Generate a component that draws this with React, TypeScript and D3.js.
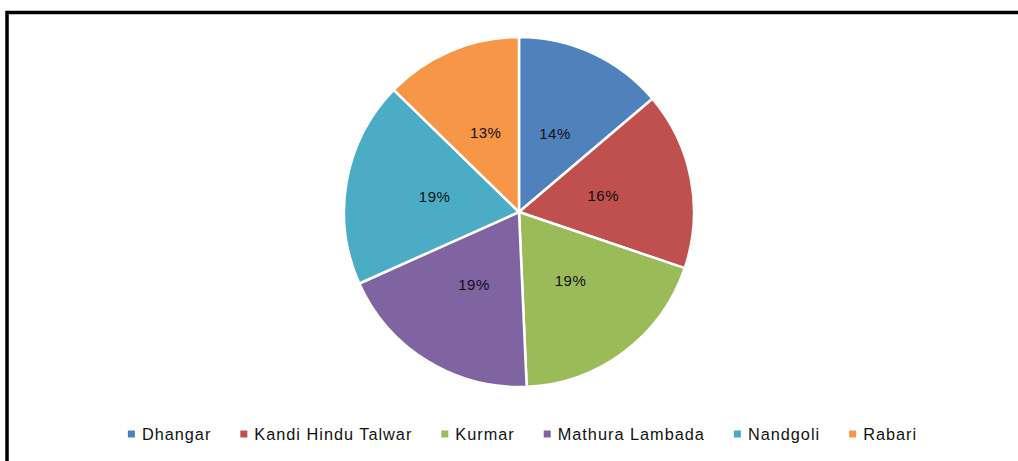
import React, { useEffect, useRef } from "react";
import * as d3 from "d3";

const categories = ["Dhangar", "Kandi Hindu Talwar", "Kurmar", "Mathura Lambada", "Nandgoli", "Rabari"];
const values = [13.8, 16.4, 19.1, 19.0, 19.0, 12.7];
const colors = ["#4F81BD", "#C0504D", "#9BBB59", "#8064A2", "#4BACC6", "#F79646"];

const W = 1018;
const H = 461;
const FONT = "'Liberation Sans', Arial, sans-serif";

export default function App() {
  const ref = useRef<SVGSVGElement | null>(null);

  useEffect(() => {
    const svg = d3.select(ref.current);
    svg.selectAll("*").remove();

    svg.append("rect").attr("x", 0).attr("y", 0).attr("width", W).attr("height", H).attr("fill", "#fff");
    // chart frame
    svg.append("rect")
      .attr("x", 7).attr("y", 12.5)
      .attr("width", W + 20).attr("height", H + 20)
      .attr("fill", "none").attr("stroke", "#000").attr("stroke-width", 3.5);

    const cx = 519, cy = 212, R = 175;
    const total = d3.sum(values);
    const pie = d3.pie<number>().sort(null).value((d) => d);
    const arcs = pie(values);
    const arc = d3.arc<d3.PieArcDatum<number>>().innerRadius(0).outerRadius(R);
    const labelArc = d3.arc<d3.PieArcDatum<number>>().innerRadius(R * 0.49).outerRadius(R * 0.49);

    const g = svg.append("g").attr("transform", `translate(${cx},${cy})`);
    g.selectAll("path.slice").data(arcs).enter().append("path")
      .attr("class", "slice")
      .attr("d", arc as any)
      .attr("fill", (_d, i) => colors[i])
      .attr("stroke", "#fff").attr("stroke-width", 2.5).attr("stroke-linejoin", "round");

    g.selectAll("text.lbl").data(arcs).enter().append("text")
      .attr("class", "lbl")
      .attr("transform", (d) => `translate(${labelArc.centroid(d)})`)
      .attr("text-anchor", "middle").attr("dy", "0.35em")
      .attr("font-family", FONT).attr("font-size", 15).attr("letter-spacing", 0.5).attr("fill", "#111")
      .text((d) => `${Math.round((d.value / total) * 100)}%`);

    // legend
    const lg = svg.append("g");
    const items = lg.selectAll("g.item").data(categories).enter().append("g").attr("class", "item");
    items.append("rect").attr("width", 7).attr("height", 7).attr("y", -3.5).attr("fill", (_d, i) => colors[i]);
    const texts = items.append("text")
      .attr("x", 14).attr("dy", "0.35em")
      .attr("font-family", FONT).attr("font-size", 16.3).attr("letter-spacing", 1).attr("fill", "#111")
      .text((d) => d);
    const widths: number[] = [];
    texts.each(function () { widths.push((this as SVGTextElement).getComputedTextLength()); });
    const gap = 29;
    const itemW = widths.map((w) => 14 + w);
    const totalW = d3.sum(itemW) + gap * (categories.length - 1);
    let x = 522.5 - totalW / 2;
    const xs: number[] = [];
    itemW.forEach((w) => { xs.push(x); x += w + gap; });
    items.attr("transform", (_d, i) => `translate(${xs[i]},434)`);
  }, []);

  return (
    <svg ref={ref} width={W} height={H}
      style={{ position: "absolute", left: 0, top: 0, display: "block" }} />
  );
}
